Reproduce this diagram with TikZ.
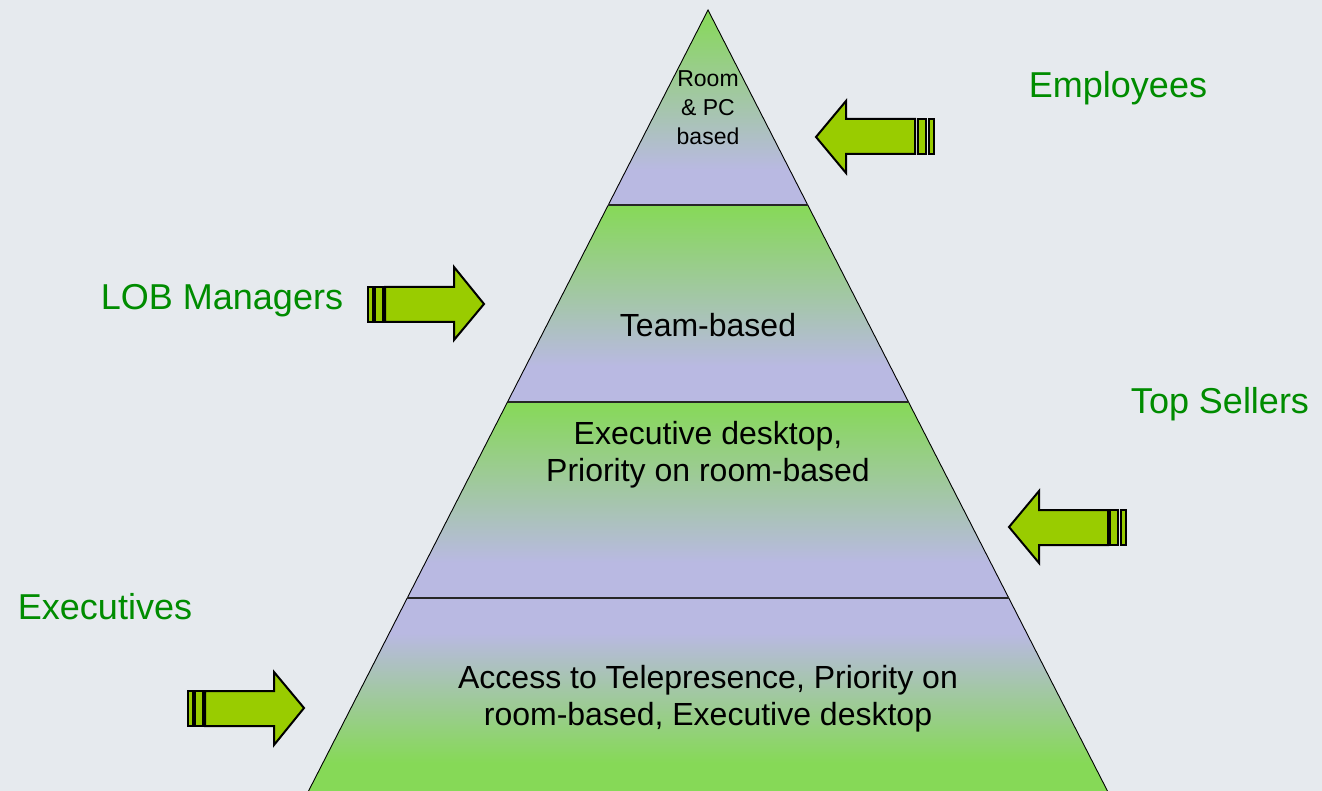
\documentclass[tikz,border=0pt]{standalone}
\usepackage{fontspec}
\setmainfont{Liberation Sans}
\definecolor{bg}{HTML}{E6EAEE}
\definecolor{grn}{HTML}{86D957}
\definecolor{lav}{HTML}{B9B9E2}
\definecolor{arrowgrn}{HTML}{99CC00}
\definecolor{labgrn}{HTML}{008C00}
\pgfdeclareverticalshading{bandup}{100bp}{color(0bp)=(lav); color(34bp)=(lav); color(75bp)=(grn); color(100bp)=(grn)}
\pgfdeclareverticalshading{banddown}{100bp}{color(0bp)=(grn); color(33bp)=(grn); color(66bp)=(lav); color(100bp)=(lav)}
\tikzset{
  label/.style={text=labgrn, font=\fontsize{36}{43}\selectfont, anchor=base, inner sep=0pt},
  inner/.style={text=black, font=\fontsize{32}{37}\selectfont, align=center, inner sep=0pt},
  arrowbody/.style={fill=arrowgrn, draw=black, line width=2pt, line join=miter},
  sepline/.style={draw=black!85, line width=1.6pt},
  sideline/.style={draw=black, line width=0.9pt}
}
\begin{document}
\begin{tikzpicture}[x=1pt,y=-1pt]
\useasboundingbox (0,0) rectangle (1322,791);
\fill[bg] (0,0) rectangle (1322,791);
\begin{scope}
\clip (0,0) rectangle (1322,791);
% bands
\shade[shading=bandup] (708,10) -- (807.7,205) -- (608.3,205) -- cycle;
\shade[shading=bandup] (608.3,205) -- (807.7,205) -- (908.5,402) -- (507.5,402) -- cycle;
\shade[shading=bandup] (507.5,402) -- (908.5,402) -- (1008.8,598) -- (407.2,598) -- cycle;
\shade[shading=banddown] (407.2,598) -- (1008.8,598) -- (1109,794) -- (307,794) -- cycle;
% outlines
\coordinate (apex) at (708,10);
\coordinate (bl) at (307,794);
\coordinate (br) at (1109,794);
\draw[sideline] (bl) -- (apex) -- (br);
\draw[sepline] (608.3,205) -- (807.7,205);
\draw[sepline] (507.5,402) -- (908.5,402);
\draw[sepline] (407.2,598) -- (1008.8,598);
\end{scope}
% texts in pyramid
\node[inner, font=\fontsize{23}{29}\selectfont] (t1) at (708,108) {Room\\\& PC\\based};
\node[inner] (t2) at (708,325) {Team-based};
\node[inner] (t3) at (708,455) {Executive desktop,\\Priority on room-based};
\node[inner] (t4) at (708,699) {Access to Telepresence, Priority on\\room-based, Executive desktop};
% labels
\node[label] (l1) at (1118,98) {Employees};
\node[label] (l2) at (222,310) {LOB Managers};
\node[label] (l3) at (1220,413) {Top Sellers};
\node[label] (l4) at (105,619) {Executives};
% arrows
% Employees (left)
\draw[arrowbody] (816,137) -- (846,101) -- (846,119) -- (915,119) -- (915,154) -- (846,154) -- (846,173) -- cycle;
\draw[arrowbody] (918,119) rectangle (926,154);
\draw[arrowbody] (928.5,119) rectangle (933.5,154);
% LOB (right)
\draw[arrowbody] (484,304) -- (454,267) -- (454,287) -- (385,287) -- (385,322) -- (454,322) -- (454,340) -- cycle;
\draw[arrowbody] (375,287) rectangle (383,322);
\draw[arrowbody] (367.5,287) rectangle (372.5,322);
% Top Sellers (left)
\draw[arrowbody] (1009,527) -- (1039,491) -- (1039,510) -- (1108,510) -- (1108,545) -- (1039,545) -- (1039,563) -- cycle;
\draw[arrowbody] (1110,510) rectangle (1118,545);
\draw[arrowbody] (1120.5,510) rectangle (1125.5,545);
% Executives (right)
\draw[arrowbody] (304,708) -- (274,672) -- (274,691) -- (205,691) -- (205,726) -- (274,726) -- (274,745) -- cycle;
\draw[arrowbody] (195,691) rectangle (203,726);
\draw[arrowbody] (187.5,691) rectangle (192.5,726);
\end{tikzpicture}
\end{document}
